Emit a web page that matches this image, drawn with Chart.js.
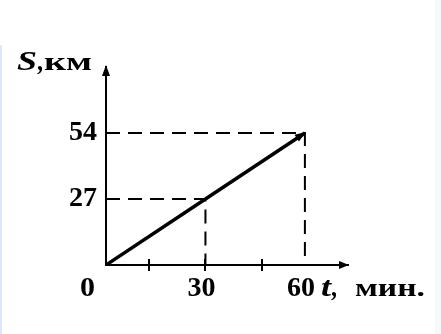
<!DOCTYPE html>
<html>
<head>
<meta charset="utf-8">
<script src="https://cdn.jsdelivr.net/npm/chart.js@4"></script>
<style>
  html, body { margin: 0; padding: 0; background: #fff; }
  #wrap { position: relative; width: 441px; height: 334px; overflow: hidden; }
  #edgeL { position: absolute; left: 0; top: 45px; width: 2px; height: 289px; background: #dce7fa; }
  #edgeR { position: absolute; left: 435px; top: 0; width: 6px; height: 334px; background: #f7f8fb; }
  canvas { position: absolute; left: 0; top: 0; }
</style>
</head>
<body>
<div id="wrap">
  <div id="edgeL"></div>
  <div id="edgeR"></div>
  <canvas id="myChart" width="441" height="334"></canvas>
</div>
<script>
const ctx = document.getElementById('myChart')

// t, min  ->  S, km
const tMin = [0, 30, 60]
const sKm = [0, 27, 54]
const xLabels = ['30', '60']
const yLabels = ['27', '54']
const xMarks = [13, 30, 47]

const serif = '"Liberation Serif", "Times New Roman", serif'

const mainLine = tMin.map((t, i) => ({ x: t, y: sKm[i] }))
// dashed guides from the axes to the points
const guide = i => [{ x: 0, y: sKm[i] }, { x: tMin[i], y: sKm[i] }, { x: tMin[i], y: 0 }]

function arrow(c, x, y, ang, len, half) {
    c.save()
    c.translate(x, y)
    c.rotate(ang)
    c.beginPath()
    c.moveTo(0, 0)
    c.lineTo(-len, -half)
    c.lineTo(-len, half)
    c.closePath()
    c.fill()
    c.restore()
}

// text squeezed / stretched to a given width (the scan has wide letters)
function fitText(c, txt, font, x, y, w) {
    c.save()
    c.font = font
    const k = w / c.measureText(txt).width
    c.translate(x, y)
    c.scale(k, 1)
    c.fillText(txt, 0, 0)
    c.restore()
}

const extras = {
    id: 'extras',
    afterDraw(chart) {
        const c = chart.ctx
        const xs = chart.scales.x, ys = chart.scales.y
        const a = chart.chartArea
        const x0 = xs.getPixelForValue(0), y0 = ys.getPixelForValue(0)
        c.save()
        c.fillStyle = '#000'
        c.strokeStyle = '#000'
        // axis arrows
        arrow(c, a.right + 1, y0, 0, 10, 4)
        arrow(c, x0, a.top - 2, -Math.PI / 2, 11, 4)
        // tick marks crossing the t axis
        c.lineWidth = 2
        xMarks.forEach(v => {
            const px = Math.round(xs.getPixelForValue(v))
            c.beginPath()
            c.moveTo(px, y0 - 6)
            c.lineTo(px, y0 + 6)
            c.stroke()
        })
        // arrow at end of the graph line
        const n = tMin.length - 1
        const ex = xs.getPixelForValue(tMin[n]), ey = ys.getPixelForValue(sKm[n])
        const px = xs.getPixelForValue(tMin[n - 1]), py = ys.getPixelForValue(sKm[n - 1])
        arrow(c, ex + 1, ey - 1, Math.atan2(ey - py, ex - px), 11, 4)
        // texts
        c.textBaseline = 'alphabetic'
        c.textAlign = 'left'
        fitText(c, '0', 'bold 28px ' + serif, x0 - 26, y0 + 31, 15)
        fitText(c, 'S', 'italic bold 27px ' + serif, 17, 70, 20)
        fitText(c, ',', 'bold 27px ' + serif, 37, 70, 6)
        fitText(c, 'км', 'bold 26px ' + serif, 44, 70, 48)
        const tx = xs.getPixelForValue(tMin[n]) + 16
        fitText(c, 't', 'italic bold 27px ' + serif, tx, y0 + 31, 10)
        fitText(c, ',', 'bold 27px ' + serif, tx + 10, y0 + 31, 6)
        fitText(c, 'мин.', 'bold 26px ' + serif, tx + 34, y0 + 31, 70)
        c.restore()
    }
}

const myChart = new Chart(ctx, {
    type: 'scatter',
    data: {
        datasets: [
            {
                data: mainLine,
                showLine: true,
                borderColor: '#000',
                borderWidth: 3.5,
                pointRadius: 0
            },
            {
                data: guide(1),
                showLine: true,
                borderColor: '#000',
                borderWidth: 2,
                borderDash: [14, 8],
                pointRadius: 0
            },
            {
                data: guide(2),
                showLine: true,
                borderColor: '#000',
                borderWidth: 2,
                borderDash: [14, 8],
                pointRadius: 0
            }
        ]
    },
    options: {
        responsive: false,
        animation: false,
        events: [],
        layout: { padding: { left: 0, top: 67, right: 93, bottom: 0 } },
        plugins: { legend: { display: false }, tooltip: { enabled: false } },
        scales: {
            x: {
                type: 'linear',
                min: 0,
                max: 73,
                grid: { display: false, drawTicks: false },
                border: { color: '#000', width: 2 },
                afterBuildTicks: s => { s.ticks = xLabels.map(v => ({ value: +v })) },
                afterFit: s => { s.height = 69 },
                ticks: {
                    color: '#000',
                    font: { family: serif, size: 28, weight: 'bold' },
                    padding: 7,
                    labelOffset: -4,
                    maxRotation: 0,
                    callback: v => String(v)
                }
            },
            y: {
                type: 'linear',
                min: 0,
                max: 81,
                grid: { display: false, drawTicks: false },
                border: { color: '#000', width: 2 },
                afterBuildTicks: s => { s.ticks = yLabels.map(v => ({ value: +v })) },
                afterFit: s => { s.width = 106 },
                ticks: {
                    color: '#000',
                    font: { family: serif, size: 28, weight: 'bold' },
                    padding: 9,
                    callback: v => String(v)
                }
            }
        }
    },
    plugins: [extras]
})
</script>
</body>
</html>
